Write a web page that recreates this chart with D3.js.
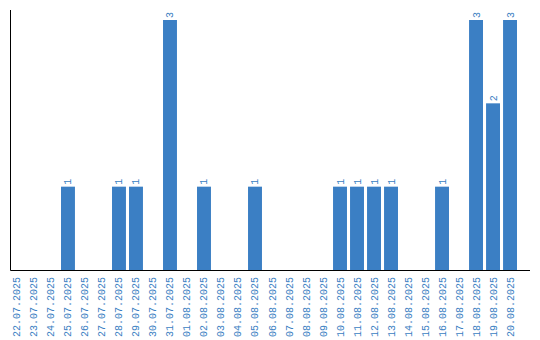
<!DOCTYPE html>
<html lang="en">
<head>
<meta charset="UTF-8">
<title>Daily counts</title>
<script src="https://d3js.org/d3.v7.min.js"></script>
<style>
    body { margin: 0; background: #ffffff; }
    text { font-family: "Liberation Mono", monospace; font-size: 10px; fill: #3a7ec2; }
</style>
</head>
<body>
<div id="chart"></div>
<script>
    // dates shown on the x axis
    const days = ["22.07.2025", "23.07.2025", "24.07.2025", "25.07.2025", "26.07.2025",
        "27.07.2025", "28.07.2025", "29.07.2025", "30.07.2025", "31.07.2025",
        "01.08.2025", "02.08.2025", "03.08.2025", "04.08.2025", "05.08.2025",
        "06.08.2025", "07.08.2025", "08.08.2025", "09.08.2025", "10.08.2025",
        "11.08.2025", "12.08.2025", "13.08.2025", "14.08.2025", "15.08.2025",
        "16.08.2025", "17.08.2025", "18.08.2025", "19.08.2025", "20.08.2025"];
    const counts = [0, 0, 0, 1, 0, 0, 1, 1, 0, 3, 0, 1, 0, 0, 1,
        0, 0, 0, 0, 1, 1, 1, 1, 0, 0, 1, 0, 3, 2, 3];

    const width = 540, height = 340;
    const left = 10.5, bottom = 270.5, right = 530;

    const svg = d3.select("#chart").append("svg")
        .attr("width", width)
        .attr("height", height);

    const x = d3.scaleBand()
        .domain(days)
        .range([10, 517])
        .paddingInner(0.18)
        .paddingOuter(0);

    const y = d3.scaleLinear()
        .domain([0, 3])
        .range([270, 20]);

    const data = days.map((d, i) => ({ day: d, value: counts[i] }));

    svg.selectAll("rect.bar")
        .data(data.filter(d => d.value > 0))
        .enter()
        .append("rect")
        .attr("class", "bar")
        .attr("x", d => x(d.day))
        .attr("width", x.bandwidth())
        .attr("y", d => y(d.value))
        .attr("height", d => y(0) - y(d.value))
        .attr("fill", "#3b7fc4");

    // value labels, rotated
    svg.selectAll("text.val")
        .data(data.filter(d => d.value > 0))
        .enter()
        .append("text")
        .attr("class", "val")
        .attr("transform", d => `translate(${x(d.day) + x.bandwidth() / 2 + 3.5},${y(d.value) - 2}) rotate(-90)`)
        .attr("text-anchor", "start")
        .text(d => d.value);

    // axes lines
    svg.append("line")
        .attr("x1", left).attr("x2", left)
        .attr("y1", 10).attr("y2", bottom)
        .attr("stroke", "#000");
    svg.append("line")
        .attr("x1", left).attr("x2", right)
        .attr("y1", bottom).attr("y2", bottom)
        .attr("stroke", "#000");

    // x tick labels
    svg.selectAll("text.tick")
        .data(days)
        .enter()
        .append("text")
        .attr("class", "tick")
        .attr("transform", d => `translate(${x(d) + x.bandwidth() / 2 + 3.5},277) rotate(-90)`)
        .attr("text-anchor", "end")
        .text(d => d);
</script>
</body>
</html>
